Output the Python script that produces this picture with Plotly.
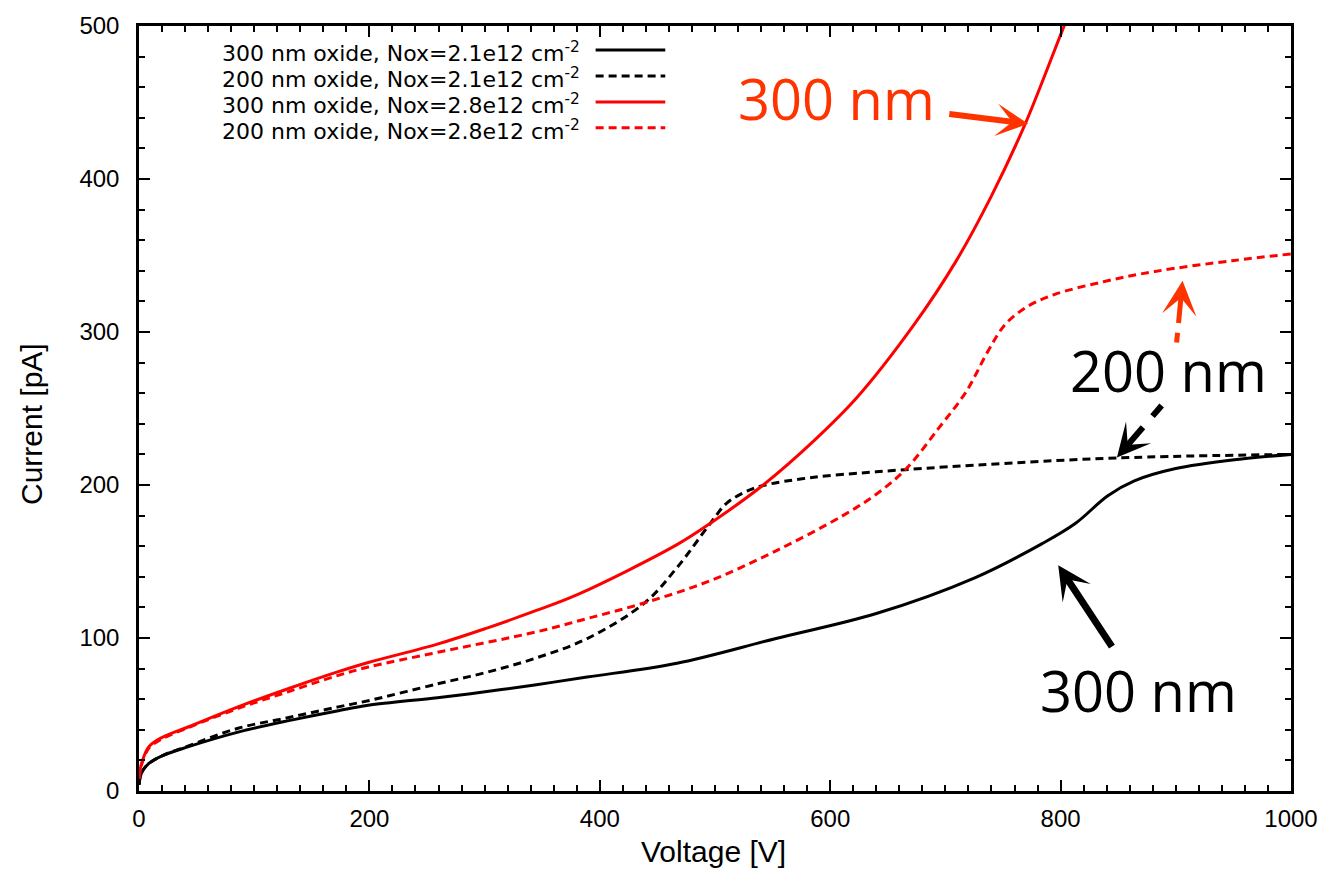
import plotly.graph_objects as go

# ---------------- data ----------------
V_300_21 = [0, 1, 3, 8.6, 20, 43, 86, 130, 173, 199, 259, 302, 345, 389, 467, 553, 640, 726, 784, 813, 841, 864, 899, 957, 1000]
I_300_21 = [4, 9, 13, 18, 23, 29, 38.5, 46, 52.5, 56, 61, 65, 69.5, 74.5, 83.5, 99.7, 116, 139.5, 161.7, 175, 193, 202.7, 210.6, 217, 220]

V_200_21 = [0, 1, 3, 8.6, 20, 43, 86, 130, 173, 199, 259, 302, 345, 389, 439, 467, 496, 510, 525, 541, 582, 640, 726, 850, 1000]
I_200_21 = [4, 9, 13, 18, 23, 29.5, 41, 48, 55, 59, 70, 77.6, 87, 99.6, 123, 146, 175, 188, 195, 199.5, 204.7, 208.6, 213, 217.7, 220]

V_300_28 = [0, 1, 3, 8.6, 20, 43, 86, 130, 173, 199, 259, 302, 345, 381, 467, 496, 541, 586, 623, 672, 709, 740, 769, 802, 806]
I_300_28 = [8, 14, 20, 29, 35, 42, 55, 67, 78, 84, 96, 106.5, 118, 128.5, 161, 175, 199.5, 229, 257, 304, 346, 389, 435.5, 498, 505]

V_200_28 = [0, 1, 3, 8.6, 20, 43, 86, 130, 173, 199, 259, 345, 389, 439, 496, 553, 611, 640, 666, 694, 718, 737, 752, 772, 795, 838, 882, 951, 1000]
I_200_28 = [8, 13, 19, 28, 34, 41.5, 54, 65, 75.6, 81, 90.6, 104, 112.7, 123, 137.5, 157, 180, 194, 210.6, 237, 261, 287.5, 305, 317, 324.6, 333, 339.6, 346.8, 351]

legend_labels = [
    "300 nm oxide, Nox=2.1e12 cm<sup>-2</sup>",
    "200 nm oxide, Nox=2.1e12 cm<sup>-2</sup>",
    "300 nm oxide, Nox=2.8e12 cm<sup>-2</sup>",
    "200 nm oxide, Nox=2.8e12 cm<sup>-2</sup>",
]
x_ticks = [0, 200, 400, 600, 800, 1000]
y_ticks = [0, 100, 200, 300, 400, 500]

# ---------------- geometry helpers ----------------
W, H = 1330, 874
L, R, T, B = 139, 33, 25, 83
PW, PH = W - L - R, H - T - B
X0, X1, Y0, Y1 = 0, 1000, 0, 500


def dx(px):
    return X0 + (px - L) / PW * (X1 - X0)


def dy(py):
    return Y0 + (H - B - py) / PH * (Y1 - Y0)


def pxp(px):
    return (px - L) / PW


def pyp(py):
    return (H - B - py) / PH


RED = "#ff0000"
ORANGE = "#ff3300"
BLACK = "#000000"
DASH = "8px,5px"

series = [
    (V_300_21, I_300_21, BLACK, "solid"),
    (V_200_21, I_200_21, BLACK, DASH),
    (V_300_28, I_300_28, RED, "solid"),
    (V_200_28, I_200_28, RED, DASH),
]

fig = go.Figure()
for (vx, iy, col, dash), name in zip(series, legend_labels):
    fig.add_trace(go.Scatter(
        x=vx, y=iy, mode="lines", name=name, showlegend=False,
        line=dict(color=col, width=3, dash=dash, shape="spline", smoothing=1.0),
        hoverinfo="skip",
    ))

annotations = []
shapes = []

# ----- custom legend (text left, sample right) -----
row_y = [49, 75, 101, 127]
for (vx, iy, col, dash), lab, ry in zip(series, legend_labels, row_y):
    annotations.append(dict(
        xref="paper", yref="paper", x=pxp(584), y=pyp(ry + 2),
        xanchor="right", yanchor="middle", showarrow=False, text=lab,
        font=dict(family="DejaVu Sans", size=22, color="black"),
    ))
    shapes.append(dict(
        type="line", xref="paper", yref="paper",
        x0=pxp(598), x1=pxp(668), y0=pyp(ry), y1=pyp(ry),
        line=dict(color=col, width=3, dash=dash),
    ))

# ----- big labels -----
big = dict(family="Open Sans", size=56)
annotations.append(dict(x=dx(840), y=dy(97), xref="x", yref="y", text="300 nm",
                        showarrow=False, font=dict(big, color=ORANGE)))
annotations.append(dict(x=dx(1174), y=dy(369), xref="x", yref="y", text="200 nm",
                        showarrow=False, font=dict(big, color=BLACK)))
annotations.append(dict(x=dx(1144), y=dy(690), xref="x", yref="y", text="300 nm",
                        showarrow=False, font=dict(big, color=BLACK)))

# ----- solid arrows -----
annotations.append(dict(x=dx(1033), y=dy(123), ax=dx(952), ay=dy(113),
                        xref="x", yref="y", axref="x", ayref="y", text="",
                        showarrow=True, arrowhead=3, arrowwidth=6, arrowsize=0.9,
                        arrowcolor=ORANGE, standoff=0))
annotations.append(dict(x=dx(1063), y=dy(565), ax=dx(1118), ay=dy(648),
                        xref="x", yref="y", axref="x", ayref="y", text="",
                        showarrow=True, arrowhead=3, arrowwidth=7, arrowsize=0.8,
                        arrowcolor=BLACK, standoff=0))

# ----- dashed arrows: head via annotation, dashed shaft via shape -----
annotations.append(dict(x=dx(1122), y=dy(457), ax=dx(1149.5), ay=dy(425.3),
                        xref="x", yref="y", axref="x", ayref="y", text="",
                        showarrow=True, arrowhead=3, arrowwidth=6, arrowsize=0.92,
                        arrowcolor=BLACK, standoff=0))
shapes.append(dict(type="line", xref="x", yref="y",
                   x0=dx(1167), y0=dy(405), x1=dx(1149.5), y1=dy(425.3),
                   line=dict(color=BLACK, width=6, dash="14px,13px")))
annotations.append(dict(x=dx(1188), y=dy(280), ax=dx(1183.8), ay=dy(323.8),
                        xref="x", yref="y", axref="x", ayref="y", text="",
                        showarrow=True, arrowhead=3, arrowwidth=5, arrowsize=1.15,
                        arrowcolor=ORANGE, standoff=0))
shapes.append(dict(type="line", xref="x", yref="y",
                   x0=dx(1182), y0=dy(342), x1=dx(1183.8), y1=dy(323.8),
                   line=dict(color=ORANGE, width=5, dash="10px,9px")))

# ----- axis titles -----
annotations.append(dict(xref="paper", yref="paper", x=pxp(716), y=pyp(852),
                        text="Voltage [V]", showarrow=False, xanchor="center", yanchor="middle",
                        font=dict(family="Liberation Sans, Arial", size=30, color="black")))
annotations.append(dict(xref="paper", yref="paper", x=pxp(31), y=pyp(424),
                        text="Current [pA]", showarrow=False, textangle=-90,
                        xanchor="center", yanchor="middle",
                        font=dict(family="Liberation Sans, Arial", size=30, color="black")))

tickfont = dict(family="Liberation Sans, Arial", size=24, color="black")
axis_common = dict(
    showline=True, linecolor="black", linewidth=2.5, mirror="ticks",
    ticks="inside", ticklen=11, tickwidth=2, tickcolor="black",
    showgrid=False, zeroline=False, tickfont=tickfont,
)

fig.update_layout(
    width=W, height=H,
    margin=dict(l=L, r=R, t=T, b=B, pad=0),
    paper_bgcolor="white", plot_bgcolor="white",
    showlegend=False,
    xaxis=dict(axis_common, range=[X0, X1], tickvals=x_ticks, ticklabelstandoff=4,
               minor=dict(dtick=20, ticks="inside", ticklen=6, tickwidth=1.5, tickcolor="black")),
    yaxis=dict(axis_common, range=[Y0, Y1], tickvals=y_ticks, ticklabelstandoff=12,
               minor=dict(dtick=20, ticks="inside", ticklen=6, tickwidth=1.5, tickcolor="black")),
    annotations=annotations,
    shapes=shapes,
)

fig.write_html("out.html")
